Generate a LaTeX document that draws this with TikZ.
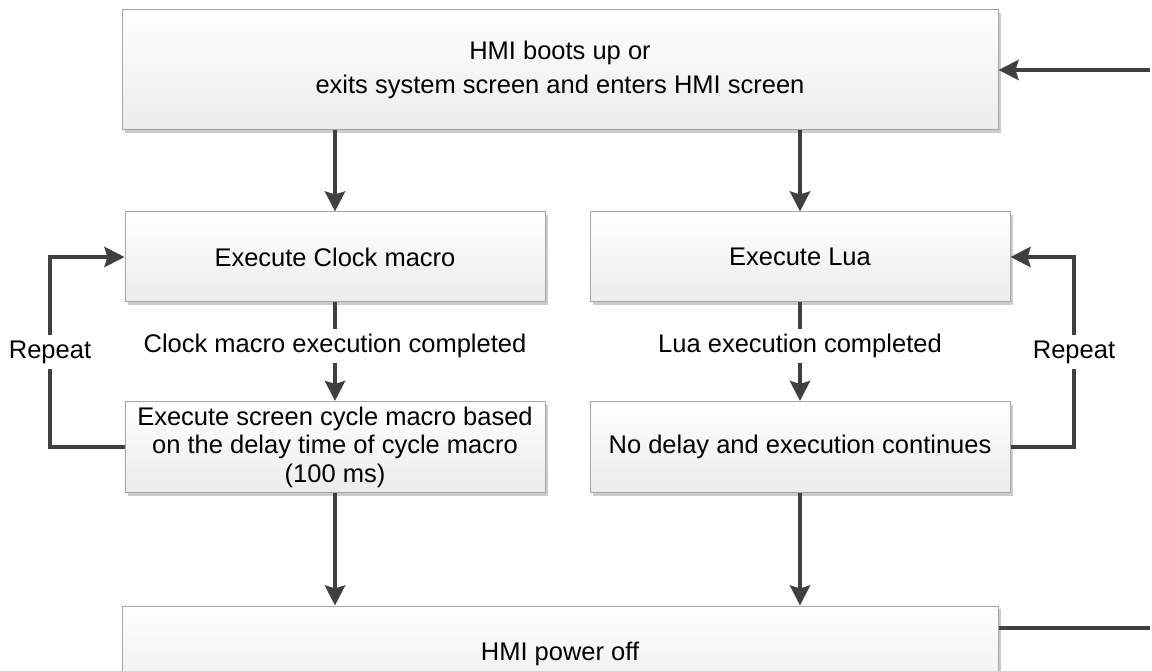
\documentclass[tikz,border=0pt]{standalone}
\usepackage{fontspec}
\setmainfont{Liberation Sans}
\usetikzlibrary{arrows.meta,shadows}
\definecolor{linkgray}{RGB}{64,64,64}
\definecolor{edgegray}{RGB}{165,165,165}
\definecolor{shadegray}{RGB}{236,236,236}
\tikzset{
  box/.style={draw=edgegray, line width=1pt, top color=white, bottom color=shadegray,
    align=center, inner sep=0pt,
    general shadow={fill=black!20, shadow xshift=3pt, shadow yshift=-3pt}},
  wire/.style={draw=linkgray, line width=4.5pt},
  link/.style={wire, -{Stealth[length=20pt,width=20pt,inset=3pt]}},
  lbl/.style={fill=white, inner sep=0pt, minimum height=33pt}
}
\begin{document}
\begin{tikzpicture}[x=1pt,y=-1pt, font=\fontsize{25.5}{28.5}\selectfont]
\useasboundingbox (0,0) rectangle (1152,671);
% boxes
\node[box, minimum width=876pt, minimum height=120pt] (top) at (560,70)
  {HMI boots up or\\[6pt]exits system screen and enters HMI screen};
\node[box, minimum width=420pt, minimum height=90pt] (c1) at (335,257) {Execute Clock macro};
\node[box, minimum width=420pt, minimum height=90pt] (l1) at (800,257) {Execute Lua};
\node[box, minimum width=420pt, minimum height=91pt] (c2) at (335,447)
  {Execute screen cycle macro based\\on the delay time of cycle macro\\(100 ms)};
\node[box, minimum width=420pt, minimum height=91pt] (l2) at (800,447) {No delay and execution continues};
\node[box, minimum width=876pt, minimum height=96pt] (bot) at (560,654) {HMI power off};
% labels
\node[lbl] (cdone) at (335,346) {Clock macro execution completed};
\node[lbl] (ldone) at (800,346) {Lua execution completed};
\node[lbl] (rl) at (50,352) {Repeat};
\node[lbl] (rr) at (1074,352) {Repeat};
\coordinate (tin) at (1150,70);
\coordinate (bout) at (1150,628);
% connectors
\draw[link] (tin) -- (top);
\foreach \n in {c1,l1}
  \draw[link] (top.south -| \n) -- (\n);
\foreach \a/\b/\c in {c1/cdone/c2,l1/ldone/l2}
{\draw[wire] (\a) -- (\b);
\draw[link] (\b) -- (\c);
\draw[link] (\c) -- (bot.north -| \c);}
\draw[wire] (c2.west) -| (rl);
\draw[link] (rl) |- (c1.west);
\draw[wire] (l2.east) -| (rr);
\draw[link] (rr) |- (l1.east);
\draw[wire] (bot.east |- bout) -- (bout);
\end{tikzpicture}
\end{document}
